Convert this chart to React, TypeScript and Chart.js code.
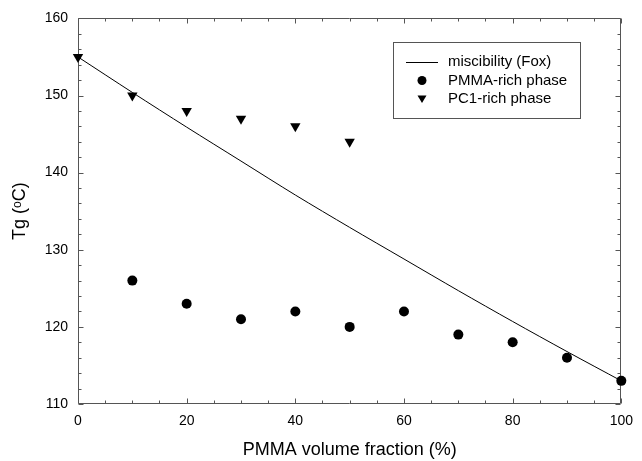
import React, { useEffect, useRef } from 'react';
import { Chart, registerables } from 'chart.js';

Chart.register(...registerables);

// ---- data ----
const foxX = [0, 10, 20, 30, 40, 50, 60, 70, 80, 90, 100];
const foxY = [155, 150.4, 145.9, 141.5, 137.1, 132.9, 128.8, 124.7, 120.7, 116.8, 113];
const pmmaX = [10, 20, 30, 40, 50, 60, 70, 80, 90, 100];
const pmmaY = [126, 123, 121, 122, 120, 122, 119, 118, 116, 113];
const pc1X = [0, 10, 20, 30, 40, 50];
const pc1Y = [155, 150, 148, 147, 146, 144];
const xTickValues = [0, 20, 40, 60, 80, 100];
const yTickValues = [110, 120, 130, 140, 150, 160];
const xMinorStep = 5;
const yMinorStep = 2;
const seriesLabels = ['miscibility (Fox)', 'PMMA-rich phase', 'PC1-rich phase'];
const xTitle = 'PMMA volume fraction (%)';
const yTitle = 'Tg (\u1D52C)';

const FONT = "'Liberation Sans', Arial, sans-serif";
const FRAME = '#555555';

const framePlugin = {
  id: 'frameTicks',
  beforeDatasetsDraw(chart: any) {
    const { ctx, chartArea } = chart;
    const xs = chart.scales.x;
    const ys = chart.scales.y;
    const l = Math.round(chartArea.left) + 0.5;
    const r = Math.round(chartArea.right) - 0.5;
    const t = Math.round(chartArea.top) + 0.5;
    const b = Math.round(chartArea.bottom) - 0.5;
    ctx.save();
    ctx.strokeStyle = FRAME;
    ctx.lineWidth = 1;
    ctx.beginPath();
    ctx.rect(l, t, r - l, b - t);
    ctx.stroke();
    const major = 5;
    const minor = 3;
    ctx.beginPath();
    for (let v = xs.min; v <= xs.max + 1e-9; v += xMinorStep) {
      const px = Math.round(xs.getPixelForValue(v)) + 0.5;
      const len = xTickValues.includes(v) ? major : minor;
      ctx.moveTo(px, b);
      ctx.lineTo(px, b - len);
      ctx.moveTo(px, t);
      ctx.lineTo(px, t + len);
    }
    for (let v = ys.min; v <= ys.max + 1e-9; v += yMinorStep) {
      const py = Math.round(ys.getPixelForValue(v)) + 0.5;
      const len = yTickValues.includes(v) ? major : minor;
      ctx.moveTo(l, py);
      ctx.lineTo(l + len, py);
      ctx.moveTo(r, py);
      ctx.lineTo(r - len, py);
    }
    ctx.stroke();
    ctx.restore();
  },
};

const legendPlugin = {
  id: 'boxLegend',
  afterDraw(chart: any) {
    const { ctx } = chart;
    const bx = 393.5;
    const by = 42.5;
    const bw = 187;
    const bh = 76;
    ctx.save();
    ctx.fillStyle = '#ffffff';
    ctx.fillRect(bx, by, bw, bh);
    ctx.strokeStyle = FRAME;
    ctx.lineWidth = 1;
    ctx.strokeRect(bx, by, bw, bh);
    const rowsY = [62, 80.5, 99];
    const sx = 422;
    const textX = 448;
    ctx.font = `15px ${FONT}`;
    ctx.textBaseline = 'middle';
    ctx.textAlign = 'left';
    chart.data.datasets.forEach((ds: any, i: number) => {
      const y = rowsY[i];
      ctx.fillStyle = '#000';
      ctx.strokeStyle = '#000';
      if (ds.showLine) {
        ctx.lineWidth = 1;
        ctx.beginPath();
        ctx.moveTo(406, Math.round(y) + 0.5);
        ctx.lineTo(438, Math.round(y) + 0.5);
        ctx.stroke();
      } else if (ds.pointStyle === 'circle') {
        ctx.beginPath();
        ctx.arc(sx, y, 4.5, 0, Math.PI * 2);
        ctx.fill();
      } else {
        ctx.beginPath();
        ctx.moveTo(sx - 4.5, y - 3.5);
        ctx.lineTo(sx + 4.5, y - 3.5);
        ctx.lineTo(sx, y + 4);
        ctx.closePath();
        ctx.fill();
      }
      ctx.fillStyle = '#000';
      ctx.fillText(ds.label, textX, y);
    });
    ctx.restore();
  },
};

export default function App() {
  const ref = useRef<HTMLCanvasElement | null>(null);
  useEffect(() => {
    if (!ref.current) return;
    const chart = new Chart(ref.current, {
      type: 'scatter',
      data: {
        datasets: [
          {
            label: seriesLabels[0],
            data: foxX.map((x, i) => ({ x, y: foxY[i] })),
            showLine: true,
            borderColor: '#000',
            borderWidth: 1,
            pointRadius: 0,
            pointHoverRadius: 0,
            tension: 0.3,
            clip: false,
          } as any,
          {
            label: seriesLabels[1],
            data: pmmaX.map((x, i) => ({ x, y: pmmaY[i] })),
            pointStyle: 'circle',
            pointRadius: 5,
            backgroundColor: '#000',
            borderColor: '#000',
            borderWidth: 0,
            clip: false,
          } as any,
          {
            label: seriesLabels[2],
            data: pc1X.map((x, i) => ({ x, y: pc1Y[i] })),
            pointStyle: 'triangle',
            rotation: 180,
            pointRadius: 6,
            backgroundColor: '#000',
            borderColor: '#000',
            borderWidth: 0,
            clip: false,
          } as any,
        ],
      },
      options: {
        responsive: false,
        animation: false,
        layout: { padding: { top: 18, right: 14, bottom: 0, left: 0 } },
        plugins: {
          legend: { display: false },
          tooltip: { enabled: false },
        },
        scales: {
          x: {
            type: 'linear',
            min: 0,
            max: 100,
            afterBuildTicks: (s: any) => {
              s.ticks = xTickValues.map((v) => ({ value: v }));
            },
            afterFit: (s: any) => {
              s.height = 57;
            },
            ticks: {
              font: { family: FONT, size: 14 },
              color: '#000',
              padding: 9,
              maxRotation: 0,
            },
            grid: { display: false, drawTicks: false },
            border: { display: false },
            title: {
              display: true,
              text: xTitle,
              font: { family: FONT, size: 18 },
              color: '#000',
              padding: { top: 0, bottom: 0 },
            },
          },
          y: {
            type: 'linear',
            min: 110,
            max: 160,
            afterBuildTicks: (s: any) => {
              s.ticks = yTickValues.map((v) => ({ value: v }));
            },
            afterFit: (s: any) => {
              s.width = 78;
            },
            ticks: {
              font: { family: FONT, size: 14 },
              color: '#000',
              padding: 10,
            },
            grid: { display: false, drawTicks: false },
            border: { display: false },
            title: {
              display: true,
              text: yTitle,
              font: { family: FONT, size: 18 },
              color: '#000',
              padding: { top: 9, bottom: 0 },
            },
          },
        },
      } as any,
      plugins: [framePlugin, legendPlugin],
    });
    return () => chart.destroy();
  }, []);
  return (
    <div style={{ position: 'fixed', left: 0, top: 0, width: 642, height: 461, background: '#fff' }}>
      <canvas ref={ref} width={642} height={461} style={{ display: 'block', width: 642, height: 461 }} />
    </div>
  );
}
